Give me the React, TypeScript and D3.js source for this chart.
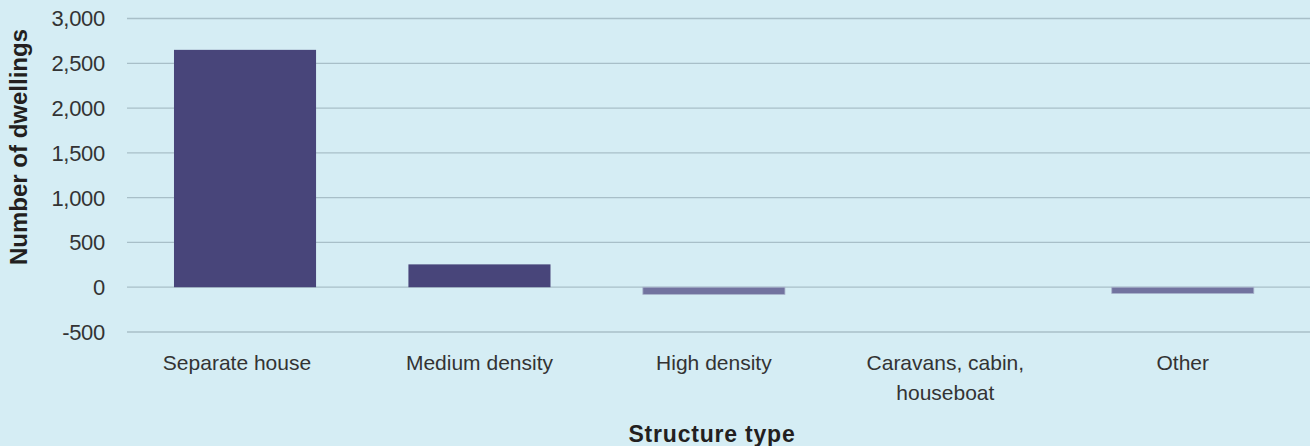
import React from "react";
import * as d3 from "d3";

const categories = ["Separate house", "Medium density", "High density", "Caravans, cabin, houseboat", "Other"];
const categoryLines = [["Separate house"], ["Medium density"], ["High density"], ["Caravans, cabin,", "houseboat"], ["Other"]];
const values = [2650, 255, -80, 0, -70];
const yTicks = [-500, 0, 500, 1000, 1500, 2000, 2500, 3000];

const W = 1310, H = 446;
const plotLeft = 127;

export default function App() {
  const x = d3.scaleBand<string>().domain(categories).range([127.8, 1300]).paddingInner(0.394).paddingOuter(0.197);
  const y = d3.scaleLinear().domain([-500, 3000]).range([332, 18.5]);
  const fmt = (v: number) => d3.format(",")(v).replace("\u2212", "-");
  const font = "'Liberation Sans', Arial, sans-serif";
  return (
    <svg width={W} height={H} style={{ position: "absolute", left: 0, top: 0, display: "block" }}>
      <rect x={0} y={0} width={W} height={H} fill="#d5edf4" />
      {yTicks.map((t) => (
        <g key={t}>
          <line x1={plotLeft} x2={W} y1={y(t)} y2={y(t)} stroke="#a8bfc8" strokeWidth={1.3} />
          <text x={105} y={y(t)} dy="0.36em" textAnchor="end" fontFamily={font} fontSize={22} letterSpacing={-0.3} fill="#333333">
            {fmt(t)}
          </text>
        </g>
      ))}
      {categories.map((c, i) => {
        const v = values[i];
        if (v === 0) return null;
        const neg = v < 0;
        return (
          <rect
            key={c}
            x={x(c)!}
            width={x.bandwidth()}
            y={Math.min(y(v), y(0))}
            height={Math.abs(y(v) - y(0))}
            fill={neg ? "#72739f" : "#48457a"}
            stroke={neg ? "#a9b4cc" : "none"}
            strokeWidth={neg ? 0.8 : 0}
          />
        );
      })}
      {categories.map((c, i) => {
        const cx = x(c)! + x.bandwidth() / 2 + (i === 0 ? -8 : i === 3 ? -3 : 0);
        return (
          <text key={c} x={cx} y={370} textAnchor="middle" fontFamily={font} fontSize={21} letterSpacing={0} fill="#333333">
            {categoryLines[i].map((l, j) => (
              <tspan key={j} x={cx} dy={j === 0 ? 0 : 30}>{l}</tspan>
            ))}
          </text>
        );
      })}
      <text x={712} y={442} textAnchor="middle" fontFamily={font} fontSize={23} fontWeight="bold" letterSpacing={0.8} fill="#231f20">
        Structure type
      </text>
      <text transform={`translate(27,${(28 + 266) / 2}) rotate(-90)`} textAnchor="middle" fontFamily={font} fontSize={24} fontWeight="bold" letterSpacing={0} fill="#231f20">
        Number of dwellings
      </text>
    </svg>
  );
}
